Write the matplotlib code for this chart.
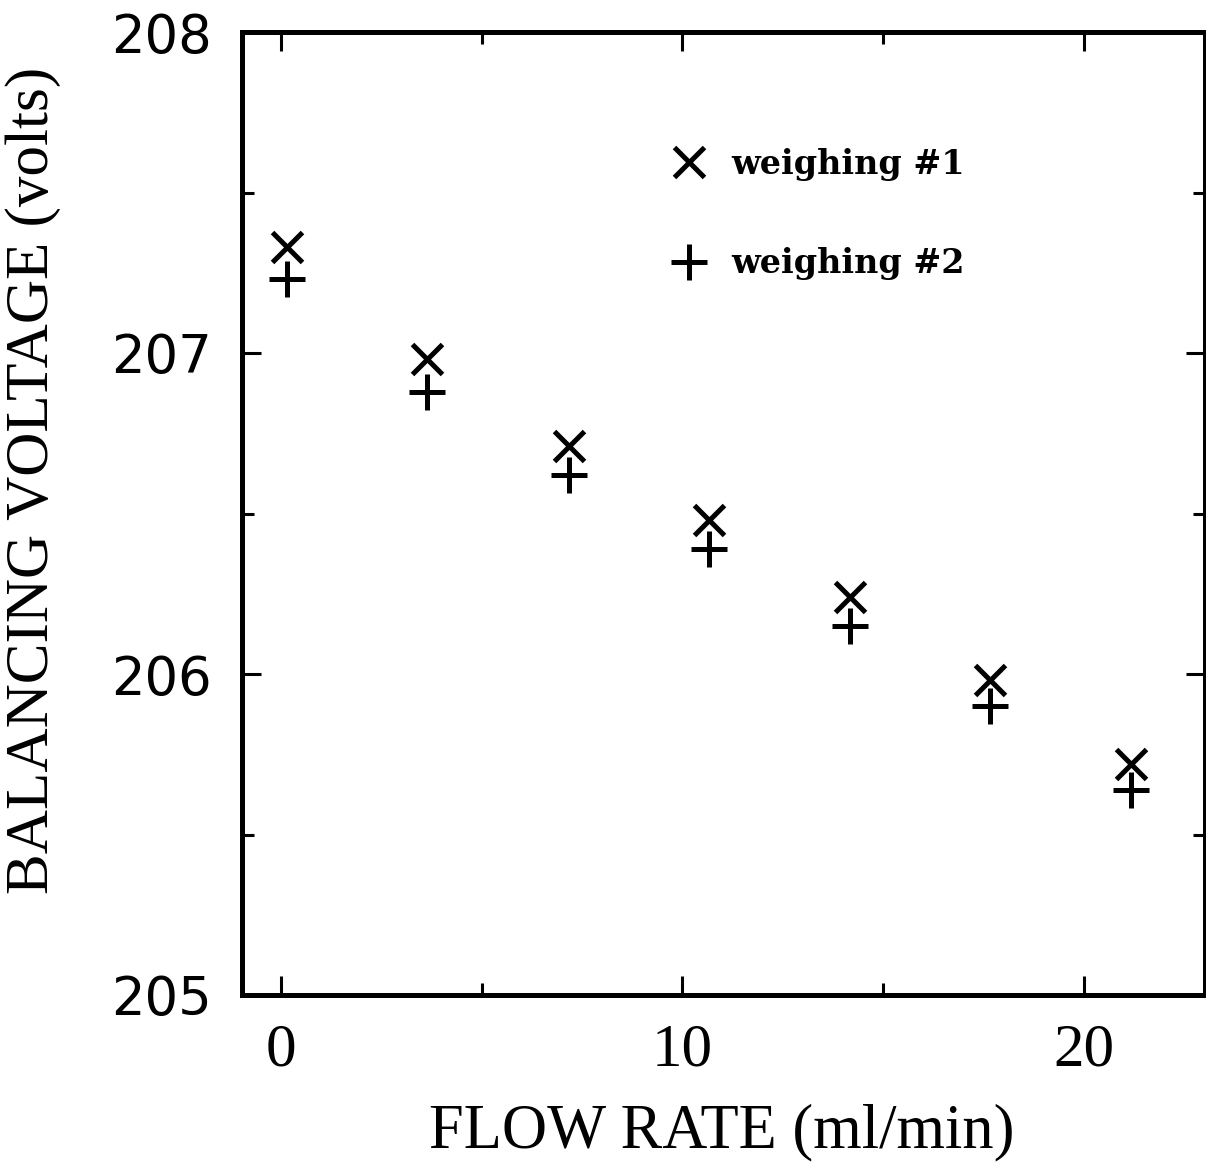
import matplotlib
matplotlib.use("Agg")
import matplotlib.pyplot as plt
from matplotlib.ticker import MultipleLocator

# =====================================================
# DATA
# =====================================================

flow_rate = [0.15, 3.64, 7.17, 10.66, 14.17, 17.67, 21.18]
voltage_w1 = [207.33, 206.98, 206.71, 206.48, 206.24, 205.98, 205.72]
voltage_w2 = [207.23, 206.88, 206.62, 206.39, 206.15, 205.90, 205.64]

labels = ["weighing #1", "weighing #2"]
x_ticks = [0, 10, 20]
y_ticks = [205, 206, 207, 208]

# =====================================================
# FIGURE
# =====================================================

fig = plt.figure(figsize=(12.06, 11.67), dpi=100)
ax = fig.add_axes([242 / 1206, 1 - 995 / 1167, 963 / 1206, 963 / 1167])

ax.plot(flow_rate, voltage_w1, linestyle="none", marker="x", color="black",
        markersize=21, markeredgewidth=3.6, label=labels[0])
ax.plot(flow_rate, voltage_w2, linestyle="none", marker="+", color="black",
        markersize=26, markeredgewidth=3.6, label=labels[1])

ax.set_xlim(-0.97, 23.02)
ax.set_ylim(205, 208)

ax.set_xticks(x_ticks)
ax.set_yticks(y_ticks)
ax.xaxis.set_minor_locator(MultipleLocator(5))
ax.yaxis.set_minor_locator(MultipleLocator(0.5))

for s in ax.spines.values():
    s.set_linewidth(3.6)

ax.tick_params(which="both", direction="in", top=True, right=True, width=2.2)
ax.tick_params(which="major", length=14)
ax.tick_params(which="minor", length=8.5)
ax.tick_params(axis="x", which="major", pad=20)
ax.tick_params(axis="y", which="major", pad=22)

for t in ax.get_xticklabels():
    t.set_fontfamily("Liberation Serif")
    t.set_fontsize(44)
for t in ax.get_yticklabels():
    t.set_fontfamily("DejaVu Sans")
    t.set_fontsize(38)

fig.text(722 / 1206, 1 - 1132 / 1167, "FLOW RATE (ml/min)",
         family="Liberation Serif", fontsize=45, ha="center", va="center")
fig.text(33 / 1206, 1 - 480 / 1167, "BALANCING VOLTAGE (volts)",
         family="Liberation Serif", fontsize=44, ha="center", va="center",
         rotation=90)

ax.legend(loc="upper left", bbox_to_anchor=(0.4455, 0.880), frameon=False,
          borderpad=0, borderaxespad=0, handlelength=1.05, handletextpad=0.75,
          labelspacing=2.0, numpoints=1,
          prop={"family": "DejaVu Serif", "weight": "bold", "size": 24})

fig.savefig("out.png", dpi=100)
